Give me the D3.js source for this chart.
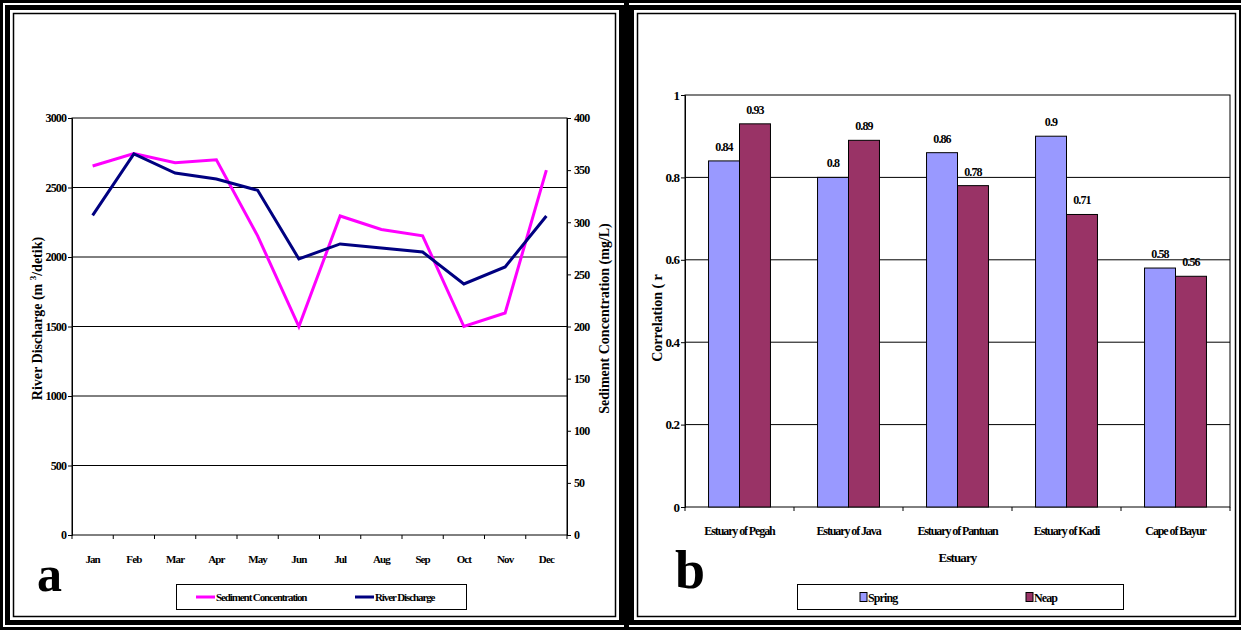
<!DOCTYPE html>
<html>
<head>
<meta charset="utf-8">
<script src="https://cdn.jsdelivr.net/npm/d3@7"></script>
<style>
  body { margin: 0; background: #fff; }
  svg text { font-family: "Liberation Serif", "Times New Roman", serif; font-weight: bold; }
</style>
</head>
<body>
<svg id="chart" width="1241" height="630"></svg>
<script>
// Panel a data: monthly river discharge and sediment concentration
const months = ['Jan', 'Feb', 'Mar', 'Apr', 'May', 'Jun', 'Jul', 'Aug', 'Sep', 'Oct', 'Nov', 'Dec'];
const riverDischarge = [2300, 2741, 2604, 2561, 2480, 1986, 2094, 2065, 2036, 1806, 1928, 2295];
const sedimentConc = [354, 366, 357, 360, 287, 200, 306, 293, 287, 200, 213, 350];
const leftTicks = [0, 500, 1000, 1500, 2000, 2500, 3000];
const rightTicks = [0, 50, 100, 150, 200, 250, 300, 350, 400];

// Panel b data: correlation per estuary
const estuaries = ['Estuary of Pegah', 'Estuary of Java', 'Estuary of Pantuan', 'Estuary of Kadi', 'Cape of Bayur'];
const springR = [0.84, 0.8, 0.86, 0.9, 0.58];
const neapR = [0.93, 0.89, 0.78, 0.71, 0.56];
const corrTicks = [0, 0.2, 0.4, 0.6, 0.8, 1];

const svg = d3.select('#chart');
const W = 1241, H = 630;

svg.append('rect').attr('width', W).attr('height', H).attr('fill', '#fff');

// Triple frame around each panel
function drawFrame(x0, x1) {
  const w = x1 - x0;
  const g = svg.append('g').attr('fill', 'none').attr('stroke', '#000');
  g.append('rect').attr('x', x0 + 1.5).attr('y', 1.5).attr('width', w - 3).attr('height', H - 3).attr('stroke-width', 3);
  g.append('rect').attr('x', x0 + 7.5).attr('y', 7.5).attr('width', w - 15).attr('height', H - 15).attr('stroke-width', 5);
  g.append('rect').attr('x', x0 + 13.5).attr('y', 13.5).attr('width', w - 27).attr('height', H - 27).attr('stroke-width', 1.5);
}
drawFrame(0, 629);
drawFrame(624, 1249);

const tickFont = '12px';
const squeeze = '-0.9px';

// ---------------- Panel a ----------------
const a = { left: 72, right: 567, top: 118, bottom: 535 };
const xA = d3.scaleBand().domain(months).range([a.left, a.right]);
const yL = d3.scaleLinear().domain([0, 3000]).range([a.bottom, a.top]);
const yR = d3.scaleLinear().domain([0, 400]).range([a.bottom, a.top]);

const gA = svg.append('g');

// gridlines
gA.selectAll('line.grid').data(leftTicks.filter(d => d > 0 && d < 3000)).join('line')
  .attr('x1', a.left).attr('x2', a.right)
  .attr('y1', d => yL(d)).attr('y2', d => yL(d))
  .attr('stroke', '#000').attr('stroke-width', 1);

// plot box
gA.append('rect').attr('x', a.left).attr('y', a.top)
  .attr('width', a.right - a.left).attr('height', a.bottom - a.top)
  .attr('fill', 'none').attr('stroke', '#000').attr('stroke-width', 1);

// left axis
const axL = gA.append('g').attr('transform', `translate(${a.left},0)`)
  .call(d3.axisLeft(yL).tickValues(leftTicks).tickSize(4).tickPadding(2).tickFormat(d3.format('d')));
axL.select('.domain').attr('stroke', '#000');
axL.selectAll('text').attr('font-size', tickFont).attr('letter-spacing', squeeze).attr('fill', '#000');

// right axis
const axR = gA.append('g').attr('transform', `translate(${a.right},0)`)
  .call(d3.axisRight(yR).tickValues(rightTicks).tickSize(4).tickPadding(3).tickFormat(d3.format('d')));
axR.select('.domain').attr('stroke', '#000');
axR.selectAll('text').attr('font-size', tickFont).attr('letter-spacing', squeeze).attr('fill', '#000');

// x ticks at band boundaries
const boundsA = months.map(m => xA(m)).concat([xA(months[months.length - 1]) + xA.bandwidth()]);
gA.selectAll('line.xt').data(boundsA).join('line')
  .attr('x1', d => d).attr('x2', d => d)
  .attr('y1', a.bottom).attr('y2', a.bottom + 4)
  .attr('stroke', '#000');

gA.selectAll('text.month').data(months).join('text')
  .attr('x', d => xA(d) + xA.bandwidth() / 2)
  .attr('y', a.bottom + 28)
  .attr('text-anchor', 'middle')
  .attr('font-size', '11px').attr('letter-spacing', squeeze)
  .text(d => d);

// lines
const lineL = d3.line().x((d, i) => xA(months[i]) + xA.bandwidth() / 2).y(d => yL(d));
const lineR = d3.line().x((d, i) => xA(months[i]) + xA.bandwidth() / 2).y(d => yR(d));
gA.append('path').datum(sedimentConc).attr('d', lineR)
  .attr('fill', 'none').attr('stroke', '#ff00ff').attr('stroke-width', 3);
gA.append('path').datum(riverDischarge).attr('d', lineL)
  .attr('fill', 'none').attr('stroke', '#000080').attr('stroke-width', 3);

// axis titles
const tL = gA.append('text')
  .attr('transform', `translate(42,${(a.top + a.bottom) / 2 - 8}) rotate(-90)`)
  .attr('text-anchor', 'middle').attr('font-size', '14px');
tL.append('tspan').text('River Discharge (m ');
tL.append('tspan').attr('font-size', '9px').attr('dy', -6).text('3');
tL.append('tspan').attr('dy', 6).text('/detik)');

gA.append('text')
  .attr('transform', `translate(609,${(a.top + a.bottom) / 2 - 8}) rotate(-90)`)
  .attr('text-anchor', 'middle').attr('font-size', '14px')
  .text('Sediment Concentration (mg/L)');

gA.append('text').attr('x', 37).attr('y', 591).attr('font-size', '50px').text('a');

// legend a
const legA = gA.append('g');
legA.append('rect').attr('x', 176.5).attr('y', 584.5).attr('width', 290).attr('height', 25)
  .attr('fill', '#fff').attr('stroke', '#000');
const legItemsA = [
  { label: 'Sediment Concentration', color: '#ff00ff', x: 196 },
  { label: 'River Discharge', color: '#000080', x: 355 }
];
legItemsA.forEach(it => {
  legA.append('line').attr('x1', it.x).attr('x2', it.x + 19).attr('y1', 597).attr('y2', 597)
    .attr('stroke', it.color).attr('stroke-width', 3);
  legA.append('text').attr('x', it.x + 20).attr('y', 601)
    .attr('font-size', '11px').attr('letter-spacing', '-1.1px').text(it.label);
});

// ---------------- Panel b ----------------
const b = { left: 685, right: 1230, top: 95, bottom: 507 };
const xB = d3.scaleBand().domain(estuaries).range([b.left, b.right]);
const xIn = d3.scaleBand().domain(['Spring', 'Neap']).range([0, xB.bandwidth()]).paddingOuter(0.76);
const yB = d3.scaleLinear().domain([0, 1]).range([b.bottom, b.top]);

const gB = svg.append('g');

gB.selectAll('line.grid').data(corrTicks.filter(d => d > 0 && d < 1)).join('line')
  .attr('x1', b.left).attr('x2', b.right)
  .attr('y1', d => yB(d)).attr('y2', d => yB(d))
  .attr('stroke', '#000').attr('stroke-width', 1);

gB.append('rect').attr('x', b.left).attr('y', b.top)
  .attr('width', b.right - b.left).attr('height', b.bottom - b.top)
  .attr('fill', 'none').attr('stroke', '#000').attr('stroke-width', 1);

const series = [
  { key: 'Spring', values: springR, color: '#9999ff' },
  { key: 'Neap', values: neapR, color: '#993366' }
];

series.forEach(s => {
  gB.selectAll(null).data(s.values).join('rect')
    .attr('x', (d, i) => xB(estuaries[i]) + xIn(s.key))
    .attr('y', d => yB(d))
    .attr('width', xIn.bandwidth())
    .attr('height', d => yB(0) - yB(d))
    .attr('fill', s.color).attr('stroke', '#000').attr('stroke-width', 1);
  gB.selectAll(null).data(s.values).join('text')
    .attr('x', (d, i) => xB(estuaries[i]) + xIn(s.key) + xIn.bandwidth() / 2)
    .attr('y', d => yB(d) - 10)
    .attr('text-anchor', 'middle')
    .attr('font-size', '12px').attr('letter-spacing', squeeze)
    .text(d => d);
});

const axB = gB.append('g').attr('transform', `translate(${b.left},0)`)
  .call(d3.axisLeft(yB).tickValues(corrTicks).tickSize(4).tickPadding(2).tickFormat(d => d));
axB.select('.domain').attr('stroke', '#000');
axB.selectAll('text').attr('font-size', '13px').attr('letter-spacing', squeeze).attr('fill', '#000');

const boundsB = estuaries.map(e => xB(e)).concat([b.right]);
gB.selectAll('line.xt').data(boundsB).join('line')
  .attr('x1', d => d).attr('x2', d => d)
  .attr('y1', b.bottom).attr('y2', b.bottom + 4)
  .attr('stroke', '#000');

gB.selectAll('text.cat').data(estuaries).join('text')
  .attr('x', d => xB(d) + xB.bandwidth() / 2)
  .attr('y', b.bottom + 28)
  .attr('text-anchor', 'middle')
  .attr('font-size', '12px').attr('letter-spacing', '-1.1px')
  .text(d => d);

gB.append('text').attr('x', (b.left + b.right) / 2).attr('y', 562)
  .attr('text-anchor', 'middle').attr('font-size', '13px').attr('letter-spacing', squeeze)
  .text('Estuary');

gB.append('text')
  .attr('transform', `translate(662,${318}) rotate(-90)`)
  .attr('text-anchor', 'middle').attr('font-size', '14px')
  .text('Correlation ( r');

gB.append('text').attr('x', 675).attr('y', 588).attr('font-size', '54px').text('b');

// legend b
const legB = gB.append('g');
legB.append('rect').attr('x', 797.5).attr('y', 584.5).attr('width', 326).attr('height', 25)
  .attr('fill', '#fff').attr('stroke', '#000');
const legItemsB = [
  { label: 'Spring', color: '#9999ff', x: 860 },
  { label: 'Neap', color: '#993366', x: 1026 }
];
legItemsB.forEach(it => {
  legB.append('rect').attr('x', it.x).attr('y', 592.5).attr('width', 7).attr('height', 9)
    .attr('fill', it.color).attr('stroke', '#000');
  legB.append('text').attr('x', it.x + 8).attr('y', 602)
    .attr('font-size', '12px').attr('letter-spacing', squeeze).text(it.label);
});
</script>
</body>
</html>
